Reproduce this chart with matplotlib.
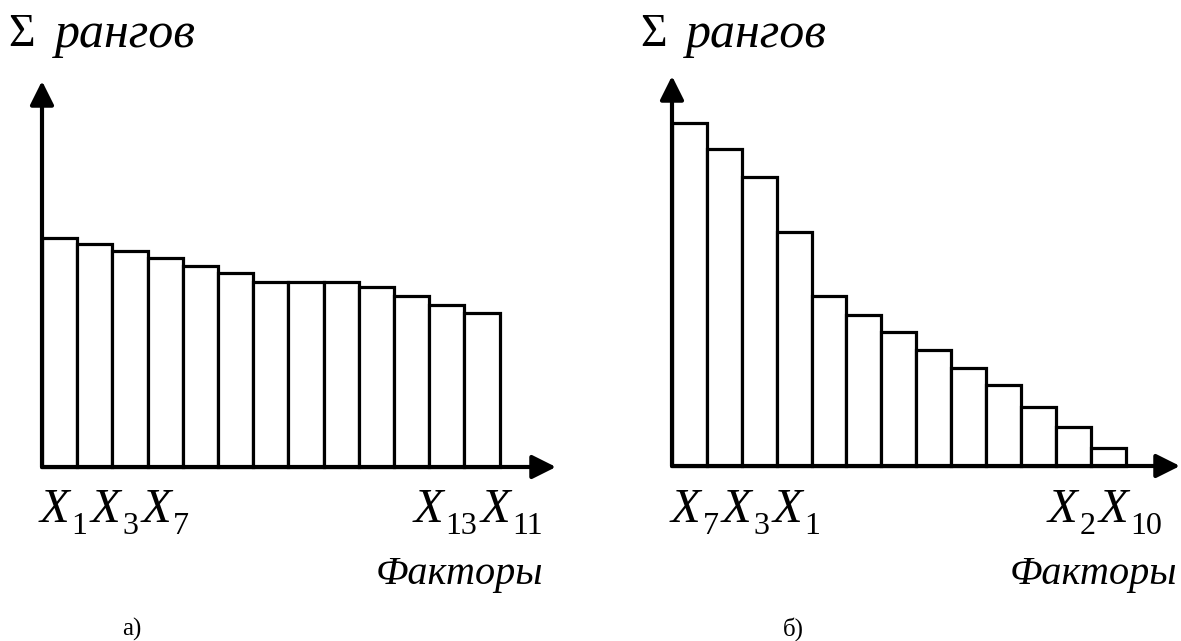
import matplotlib
matplotlib.use('Agg')
import matplotlib.pyplot as plt

plt.rcParams['font.family'] = ['Liberation Serif', 'DejaVu Serif']

# суммы рангов по факторам (условные единицы)
ranks_a = [229, 223, 216, 209, 201, 194, 185, 185, 185, 180, 171, 162, 154]
ranks_b = [343, 317, 289, 234, 170, 151, 134, 116, 98, 81, 59, 39, 18]
first_a = ['1', '3', '7']
last_a = ['13', '11']
first_b = ['7', '3', '1']
last_b = ['2', '10']
y_title = 'рангов'
x_title = 'Факторы'
captions = ['а)', 'б)']

W, H = 1181, 641
fig = plt.figure(figsize=(W / 100, H / 100), dpi=100)
renderer = fig.canvas.get_renderer()


def fx(x):
    return x / W


def fy(y):
    return 1 - y / H


def make_axes(x0, y0, x1, y1, ylim, xlim):
    ax = fig.add_axes([fx(x0), fy(y0), fx(x1 - x0), (y0 - y1) / H])
    ax.set_xlim(0, xlim)
    ax.set_ylim(0, ylim)
    ax.axis('off')
    arrow = dict(arrowstyle='-|>', color='black', lw=3.0,
                 mutation_scale=36, shrinkA=0, shrinkB=0)
    ax.annotate('', xy=(1, 0), xytext=(0, 0), xycoords='axes fraction',
                arrowprops=arrow, zorder=5, annotation_clip=False)
    ax.annotate('', xy=(0, 1), xytext=(0, 0), xycoords='axes fraction',
                arrowprops=arrow, zorder=5, annotation_clip=False)
    return ax


def factor_label(x, y, subs):
    # X курсивом с нижними индексами, набираем по кусочкам
    for s in subs:
        t = fig.text(fx(x), fy(y), 'X', fontsize=35, style='italic',
                     ha='left', va='baseline')
        x = t.get_window_extent(renderer).x1 + 2
        t = fig.text(fx(x), fy(y + 12), s, fontsize=23,
                     ha='left', va='baseline')
        x = t.get_window_extent(renderer).x1 + 3


ax1 = make_axes(42, 467, 556, 81, 386, 14.6)
ax1.bar(range(len(ranks_a)), ranks_a, width=1, align='edge',
        facecolor='white', edgecolor='black', linewidth=2.3, clip_on=False)

ax2 = make_axes(672, 466, 1180, 76, 390, 14.56)
ax2.bar(range(len(ranks_b)), ranks_b, width=1, align='edge',
        facecolor='white', edgecolor='black', linewidth=2.3, clip_on=False)

# подписи
for x0, x1 in [(8, 55), (640, 686)]:
    fig.text(fx(x0), fy(46), 'Σ', fontsize=33, ha='left', va='baseline')
    fig.text(fx(x1), fy(47), y_title, fontsize=36, style='italic',
             ha='left', va='baseline')

factor_label(40, 522, first_a)
factor_label(414, 522, last_a)
factor_label(671, 522, first_b)
factor_label(1048, 522, last_b)

fig.text(fx(543), fy(584), x_title, fontsize=29, style='italic',
         ha='right', va='baseline')
fig.text(fx(1177), fy(584), x_title, fontsize=29, style='italic',
         ha='right', va='baseline')

fig.text(fx(132), fy(636), captions[0], fontsize=18, ha='center', va='baseline')
fig.text(fx(793), fy(636), captions[1], fontsize=18, ha='center', va='baseline')

fig.savefig('out.png', dpi=100, facecolor='white')
